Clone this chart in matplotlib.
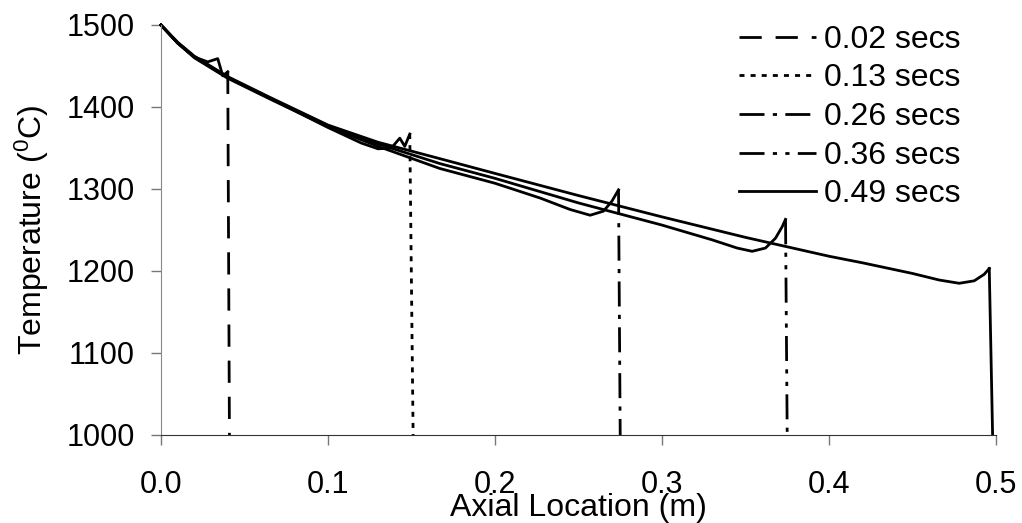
import numpy as np
import matplotlib.pyplot as plt

plt.rcParams['font.family'] = ['Liberation Sans', 'DejaVu Sans']

# Temperature profiles along the axis at five times (last point = front drop)
x_002 = [0.0, 0.01, 0.02, 0.028, 0.034, 0.037, 0.040, 0.041]
t_002 = [1500, 1478, 1461, 1455, 1459, 1438, 1443, 1000]

x_013 = [0.0, 0.01, 0.02, 0.04, 0.065, 0.1, 0.12, 0.13, 0.138, 0.143, 0.146, 0.149, 0.151]
t_013 = [1500, 1478, 1461, 1436, 1411, 1375, 1356, 1349, 1350, 1362, 1352, 1367, 1000]

x_026 = [0.0, 0.01, 0.02, 0.04, 0.065, 0.1, 0.13, 0.167, 0.2, 0.227, 0.245, 0.257, 0.265, 0.27, 0.274, 0.275]
t_026 = [1500, 1478, 1460, 1435, 1410, 1376, 1352, 1325, 1307, 1289, 1275, 1268, 1273, 1285, 1299, 1000]

x_036 = [0.0, 0.01, 0.02, 0.04, 0.065, 0.1, 0.13, 0.167, 0.2, 0.25, 0.3, 0.33, 0.345, 0.354, 0.362, 0.368, 0.372, 0.374, 0.375]
t_036 = [1500, 1478, 1461, 1436, 1411, 1377, 1355, 1331, 1313, 1283, 1256, 1238, 1228, 1224, 1228, 1240, 1254, 1263, 1000]

x_049 = [0.0, 0.01, 0.02, 0.04, 0.065, 0.1, 0.13, 0.167, 0.2, 0.25, 0.3, 0.35, 0.4, 0.42, 0.45, 0.466, 0.478, 0.487, 0.493, 0.496, 0.498]
t_049 = [1500, 1479, 1462, 1437, 1412, 1378, 1357, 1337, 1319, 1292, 1266, 1241, 1218, 1210, 1197, 1189, 1185, 1188, 1196, 1203, 1000]

labels = ['0.02 secs', '0.13 secs', '0.26 secs', '0.36 secs', '0.49 secs']
series = [(x_002, t_002), (x_013, t_013), (x_026, t_026), (x_036, t_036), (x_049, t_049)]
styles = [(0, (8, 5)), (0, (1.8, 2.2)), (0, (9, 3, 1.5, 3)), (0, (9, 3, 1.5, 3, 1.5, 3)), '-']

fig = plt.figure(figsize=(10.22, 5.23), dpi=100)
ax = fig.add_axes([0.1575, 0.1683, 0.817, 0.7839])

lw = 2
handles = []
for (xs, ts), ls, lab in zip(series, styles, labels):
    # the many short segments of the profile read as solid; only the drop shows the dash
    ax.plot(xs[:-1], ts[:-1], color='black', lw=lw, solid_joinstyle='round', clip_on=False)
    h, = ax.plot(xs[-2:], ts[-2:], color='black', lw=lw, linestyle=ls, label=lab)
    handles.append(h)

ax.set_xlim(0, 0.5)
ax.set_ylim(1000, 1500)
ax.set_xticks(np.arange(0, 0.51, 0.1))
ax.set_xticklabels(['0.0', '0.1', '0.2', '0.3', '0.4', '0.5'])
ax.set_yticks(np.arange(1000, 1501, 100))

for s in ['top', 'right']:
    ax.spines[s].set_visible(False)
ax.spines['left'].set_color('#888888')
ax.spines['bottom'].set_color('#333333')
ax.tick_params(axis='both', labelsize=22, length=7, width=1, color='#777777')
ax.tick_params(axis='x', pad=18)
ax.tick_params(axis='y', pad=12)

ax.set_xlabel('Axial Location (m)', fontsize=23, labelpad=-5)
ax.set_ylabel(r'Temperature ($\mathregular{^{0}}$C)', fontsize=23, labelpad=11)

ax.legend(handles=handles, loc='upper right', bbox_to_anchor=(0.984, 1.055), frameon=False,
          fontsize=23, handlelength=2.4, handletextpad=0.25, labelspacing=0.27, borderpad=0.2)

fig.savefig('out.png', dpi=100)
